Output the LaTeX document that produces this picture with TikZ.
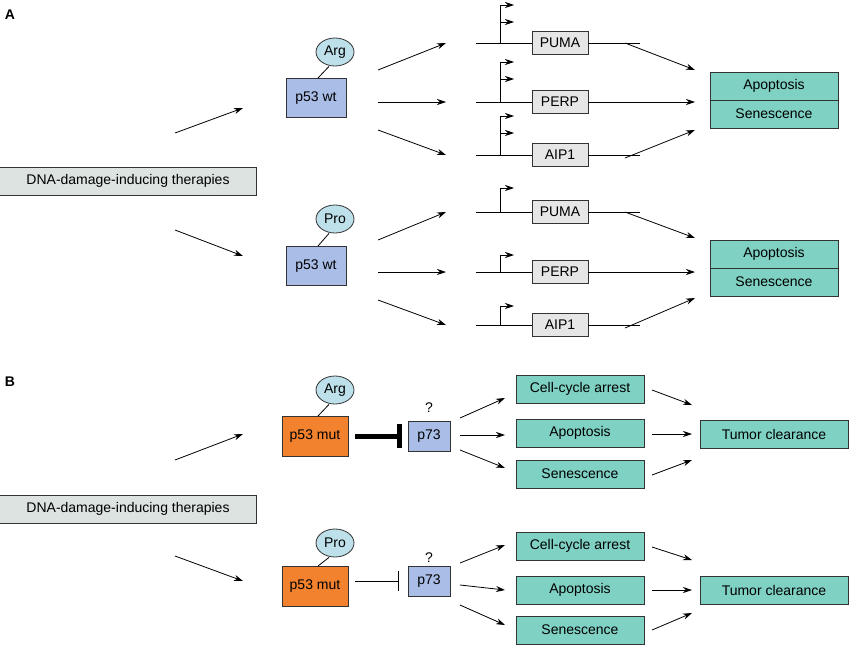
\documentclass[tikz,border=0pt]{standalone}
\usepackage{fontspec}
\setmainfont{Liberation Sans}
\usetikzlibrary{arrows.meta,shapes.geometric}
\definecolor{dna}{HTML}{DCE3E1}
\definecolor{pblue}{HTML}{A9BDE6}
\definecolor{ell}{HTML}{BDE0EA}
\definecolor{teal}{HTML}{7FD1C3}
\definecolor{org}{HTML}{F3822E}
\definecolor{gene}{HTML}{E6E6E6}
\begin{document}
\begin{tikzpicture}[x=1pt,y=-1pt,
 every node/.style={font=\fontsize{14}{16}\selectfont,inner sep=0pt},
 box/.style={draw=black!80,line width=0.8pt,minimum height=28pt},
 dnab/.style={box,fill=dna,minimum width=257pt},
 p53/.style={box,fill=pblue,minimum width=60pt,minimum height=39pt},
 mut/.style={box,fill=org,minimum width=66pt,minimum height=40pt},
 res/.style={box,fill=teal,minimum width=128pt},
 tum/.style={box,fill=teal,minimum width=148pt},
 gbox/.style={box,fill=gene,minimum width=56pt,minimum height=23pt},
 p73/.style={box,fill=pblue,minimum width=42pt,minimum height=30pt},
 res2/.style={ellipse,draw=black!80,line width=0.8pt,fill=ell,minimum width=38pt,minimum height=28pt},
 arr/.style={-{Stealth[length=9pt,width=6pt]},line width=0.8pt},
 ln/.style={line width=0.8pt},
 lab/.style={font=\fontsize{14}{16}\selectfont\bfseries}]
\useasboundingbox (0,0) rectangle (850,645);
\node[lab] (LA) at (10,15) {A};
\node[lab] (LB) at (10,382) {B};
% Panel A
\node[dnab] (dA) at (128,181) {DNA-damage-inducing therapies};
\coordinate (dA1) at (175,133); \coordinate (pA1) at (243,108);
\coordinate (dA2) at (175,230); \coordinate (pA2) at (243,256);
\draw[arr] (dA1) -- (pA1); \draw[arr] (dA2) -- (pA2);
\node[p53] (w1) at (316,98) {p53 wt};
\node[res2] (e1) at (335,52) {Arg};
\draw[ln] (e1.south) ++(-6,0) coordinate (e1b) -- (318,78) coordinate (w1t);
\node[p53] (w2) at (316,266) {p53 wt};
\node[res2] (e2) at (335,219) {Pro};
\draw[ln] (e2.south) ++(-6,0) -- (318,246);
% gene tracks
\foreach \y/\g/\n/\na in {43/PUMA/g1/2,102/PERP/g2/2,155/AIP1/g3/2,212/PUMA/g4/1,272/PERP/g5/1,325/AIP1/g6/1}{
 \node[gbox] (\n) at (560,\y) {\g};
 \draw[ln] (476,\y) -- (\n.west);
 \draw[ln] (\n.east) -- (640,\y);
}
\foreach \y/\t in {43/5,102/62,155/116}{
 \draw[ln] (500,\y) -- (500,\t);
 \draw[arr] (500,\t) -- (514,\t);
 \draw[arr] (500,\t+17) -- (514,\t+17);
}
\foreach \y/\t in {212/188,272/255,325/306}{
 \draw[ln] (500,\y) -- (500,\t);
 \draw[arr] (500,\t) -- (514,\t);
}
\foreach \a/\b in {378/70/446/43,378/102/446/102,378/130/446/155,378/240/446/212,378/272/446/272,378/300/446/325}{}
\draw[arr] (378,70) -- (446,43);
\draw[arr] (378,102) -- (446,102);
\draw[arr] (378,130) -- (446,155);
\draw[arr] (378,240) -- (446,212);
\draw[arr] (378,272) -- (446,272);
\draw[arr] (378,300) -- (446,325);
\node[res] (ap1) at (774,86) {Apoptosis};
\node[res] (se1) at (774,114) {Senescence};
\node[res] (ap2) at (774,254) {Apoptosis};
\node[res] (se2) at (774,282) {Senescence};
\draw[arr] (625,43) -- (695,70);
\draw[arr] (625,102) -- (695,102);
\draw[arr] (625,158) -- (695,130);
\draw[arr] (625,212) -- (695,238);
\draw[arr] (625,272) -- (695,272);
\draw[arr] (625,328) -- (695,298);
% Panel B
\node[dnab] (dB) at (128,509) {DNA-damage-inducing therapies};
\draw[arr] (175,460) -- (243,434);
\draw[arr] (175,556) -- (243,581);
\node[mut] (m1) at (315,436) {p53 mut};
\node[res2] (e3) at (335,390) {Arg};
\draw[ln] (e3.south) ++(-6,0) -- (318,416);
\node[mut] (m2) at (315,586) {p53 mut};
\node[res2] (e4) at (335,543) {Pro};
\draw[ln] (e4.south) ++(-6,0) -- (318,566);
\node[p73] (q1) at (429,436) {p73};
\node (qm1) at (429,408) {?};
\node[p73] (q2) at (429,581) {p73};
\node (qm2) at (429,558) {?};
\draw[line width=5pt] (m1.east) ++(7,0) -- (398,436);
\draw[line width=5pt] (399,424) -- (399,448);
\draw[ln] (m2.east) ++(7,-5) -- (398,581);
\draw[ln] (398,571) -- (398,591);
\node[res] (c1) at (580,389) {Cell-cycle arrest};
\node[res] (a1) at (580,433) {Apoptosis};
\node[res] (s1) at (580,474) {Senescence};
\node[res] (c2) at (580,546) {Cell-cycle arrest};
\node[res] (a2) at (580,590) {Apoptosis};
\node[res] (s2) at (580,630) {Senescence};
\node[tum] (t1) at (774,434) {Tumor clearance};
\node[tum] (t2) at (774,590) {Tumor clearance};
\draw[arr] (460,418) -- (505,398);
\draw[arr] (460,435) -- (505,435);
\draw[arr] (460,450) -- (505,468);
\draw[arr] (460,563) -- (505,545);
\draw[arr] (460,585) -- (505,590);
\draw[arr] (460,605) -- (505,625);
\draw[arr] (652,390) -- (692,405);
\draw[arr] (652,434) -- (692,434);
\draw[arr] (652,475) -- (692,460);
\draw[arr] (652,547) -- (692,560);
\draw[arr] (652,590) -- (692,590);
\draw[arr] (652,630) -- (692,613);
\end{tikzpicture}
\end{document}
